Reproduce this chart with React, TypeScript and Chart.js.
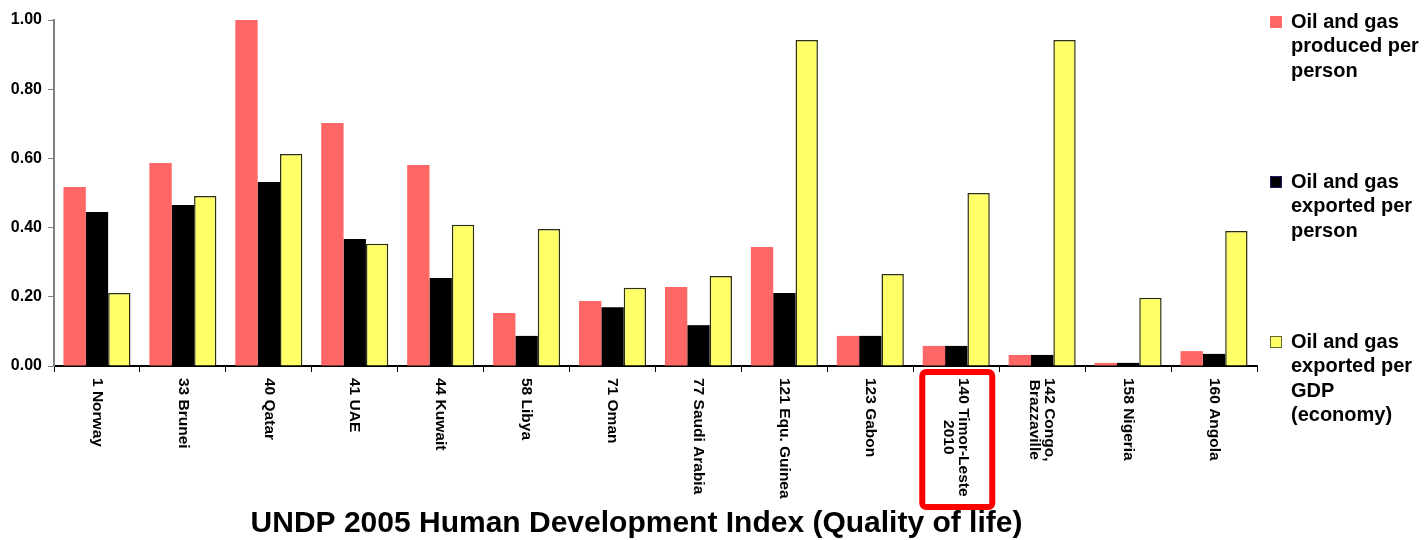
import React, { useEffect, useRef } from 'react';
import { Chart, registerables } from 'chart.js';

Chart.register(...registerables);

const categories: (string | string[])[] = [
  '1 Norway',
  '33 Brunei',
  '40 Qatar',
  '41 UAE',
  '44 Kuwait',
  '58 Libya',
  '71 Oman',
  '77 Saudi Arabia',
  '121 Equ. Guinea',
  '123 Gabon',
  ['140 Timor-Leste', '2010'],
  ['142 Congo,', 'Brazzaville'],
  '158 Nigeria',
  '160 Angola',
];

const producedPerPerson = [0.517, 0.587, 1.0, 0.702, 0.581, 0.153, 0.188, 0.228, 0.344, 0.087, 0.058, 0.032, 0.009, 0.043];
const exportedPerPerson = [0.445, 0.465, 0.532, 0.367, 0.254, 0.087, 0.17, 0.118, 0.211, 0.087, 0.058, 0.032, 0.009, 0.035];
const exportedPerGDP = [0.211, 0.491, 0.613, 0.353, 0.408, 0.396, 0.226, 0.26, 0.942, 0.266, 0.5, 0.942, 0.197, 0.39];

const yTicks = [0, 0.2, 0.4, 0.6, 0.8, 1.0];

const seriesNames: string[][] = [
  ['Oil and gas', 'produced per', 'person'],
  ['Oil and gas', 'exported per', 'person'],
  ['Oil and gas', 'exported per', 'GDP', '(economy)'],
];

const xAxisTitle = 'UNDP 2005 Human Development Index (Quality of life)';
const highlightedIndex = 10;

const FONT = '"Liberation Sans", Arial, Helvetica, sans-serif';

const overlayPlugin = {
  id: 'overlay',
  afterDraw(chart: any) {
    const { ctx, chartArea, scales } = chart;
    const xs = scales.x;
    ctx.save();
    // x category labels, rotated clockwise
    ctx.fillStyle = '#000';
    ctx.font = `bold 15.5px ${FONT}`;
    const lh = 15;
    const y0 = chartArea.bottom + 12;
    categories.forEach((c, i) => {
      const lines = Array.isArray(c) ? c : [c];
      const x = xs.getPixelForValue(i);
      ctx.save();
      ctx.translate(x, y0);
      ctx.rotate(Math.PI / 2);
      ctx.textBaseline = 'middle';
      const n = lines.length;
      const maxW = Math.max(...lines.map((l) => ctx.measureText(l).width));
      lines.forEach((l, j) => {
        const off = (j - (n - 1) / 2) * lh;
        if (n === 1) {
          ctx.textAlign = 'left';
          ctx.fillText(l, 0, off);
        } else {
          ctx.textAlign = 'center';
          ctx.fillText(l, maxW / 2, off);
        }
      });
      ctx.restore();
    });

    // highlight box
    const hx = xs.getPixelForValue(highlightedIndex);
    ctx.strokeStyle = '#FF0000';
    ctx.lineWidth = 6;
    ctx.beginPath();
    const bx = hx - 34, by = chartArea.bottom + 6, bw = 70, bh = 135;
    if ((ctx as any).roundRect) (ctx as any).roundRect(bx, by, bw, bh, 4);
    else ctx.rect(bx, by, bw, bh);
    ctx.stroke();

    // x-axis title
    ctx.fillStyle = '#000';
    ctx.font = `bold 30px ${FONT}`;
    ctx.textAlign = 'center';
    ctx.textBaseline = 'alphabetic';
    ctx.fillText(xAxisTitle, (chartArea.left + chartArea.right) / 2 - 19, chartArea.bottom + 166);

    // legend
    const lx = chartArea.right + 13;
    const fills = chart.data.datasets.map((d: any) => d.backgroundColor);
    const borders = ['#FF6666', '#1a1a66', '#666633'];
    ctx.font = `bold 20px ${FONT}`;
    ctx.textAlign = 'left';
    ctx.textBaseline = 'middle';
    seriesNames.forEach((lines, k) => {
      const yc = chartArea.top + 2 + k * 160;
      ctx.fillStyle = fills[k];
      ctx.fillRect(lx, yc - 6, 12, 12);
      ctx.strokeStyle = borders[k];
      ctx.lineWidth = 1;
      ctx.strokeRect(lx + 0.5, yc - 5.5, 11, 11);
      ctx.fillStyle = '#000';
      lines.forEach((l, j) => {
        ctx.fillText(l, lx + 21, yc + j * 24.5);
      });
    });
    ctx.restore();
  },
};

export default function App() {
  const ref = useRef<HTMLCanvasElement>(null);
  useEffect(() => {
    if (!ref.current) return;
    const chart = new Chart(ref.current, {
      type: 'bar',
      data: {
        labels: categories as any,
        datasets: [
          { label: seriesNames[0].join(' '), data: producedPerPerson, backgroundColor: '#FF6666', borderWidth: 0 },
          { label: seriesNames[1].join(' '), data: exportedPerPerson, backgroundColor: '#000000', borderWidth: 0 },
          { label: seriesNames[2].join(' '), data: exportedPerGDP, backgroundColor: '#FFFF66', borderColor: '#2e2e10', borderWidth: 1.5 },
        ],
      },
      options: {
        animation: false,
        responsive: true,
        maintainAspectRatio: false,
        datasets: { bar: { categoryPercentage: 0.78, barPercentage: 1.0 } },
        layout: { padding: { top: 20, right: 169, left: 0, bottom: 0 } },
        plugins: { legend: { display: false }, tooltip: { enabled: false }, title: { display: false } },
        scales: {
          x: {
            grid: { drawOnChartArea: false, drawTicks: true, tickLength: 6, color: '#000', offset: true },
            border: { color: '#000', width: 2 },
            ticks: { display: false },
            afterFit: (s: any) => { s.height = 174; },
          },
          y: {
            min: 0,
            max: 1,
            grid: { drawOnChartArea: false, drawTicks: true, tickLength: 6, color: '#808080' },
            border: { color: '#808080', width: 2 },
            afterBuildTicks: (s: any) => { s.ticks = yTicks.map((v) => ({ value: v })); },
            ticks: {
              padding: 6,
              color: '#000',
              font: { family: FONT, size: 16, weight: 'bold' },
              callback: (v: any) => Number(v).toFixed(2),
            },
            afterFit: (s: any) => { s.width = 54; },
          },
        },
      },
      plugins: [overlayPlugin],
    } as any);
    return () => chart.destroy();
  }, []);
  return (
    <div style={{ position: 'fixed', left: 0, top: 0, width: 1426, height: 540, background: '#fff' }}>
      <canvas ref={ref} />
    </div>
  );
}
